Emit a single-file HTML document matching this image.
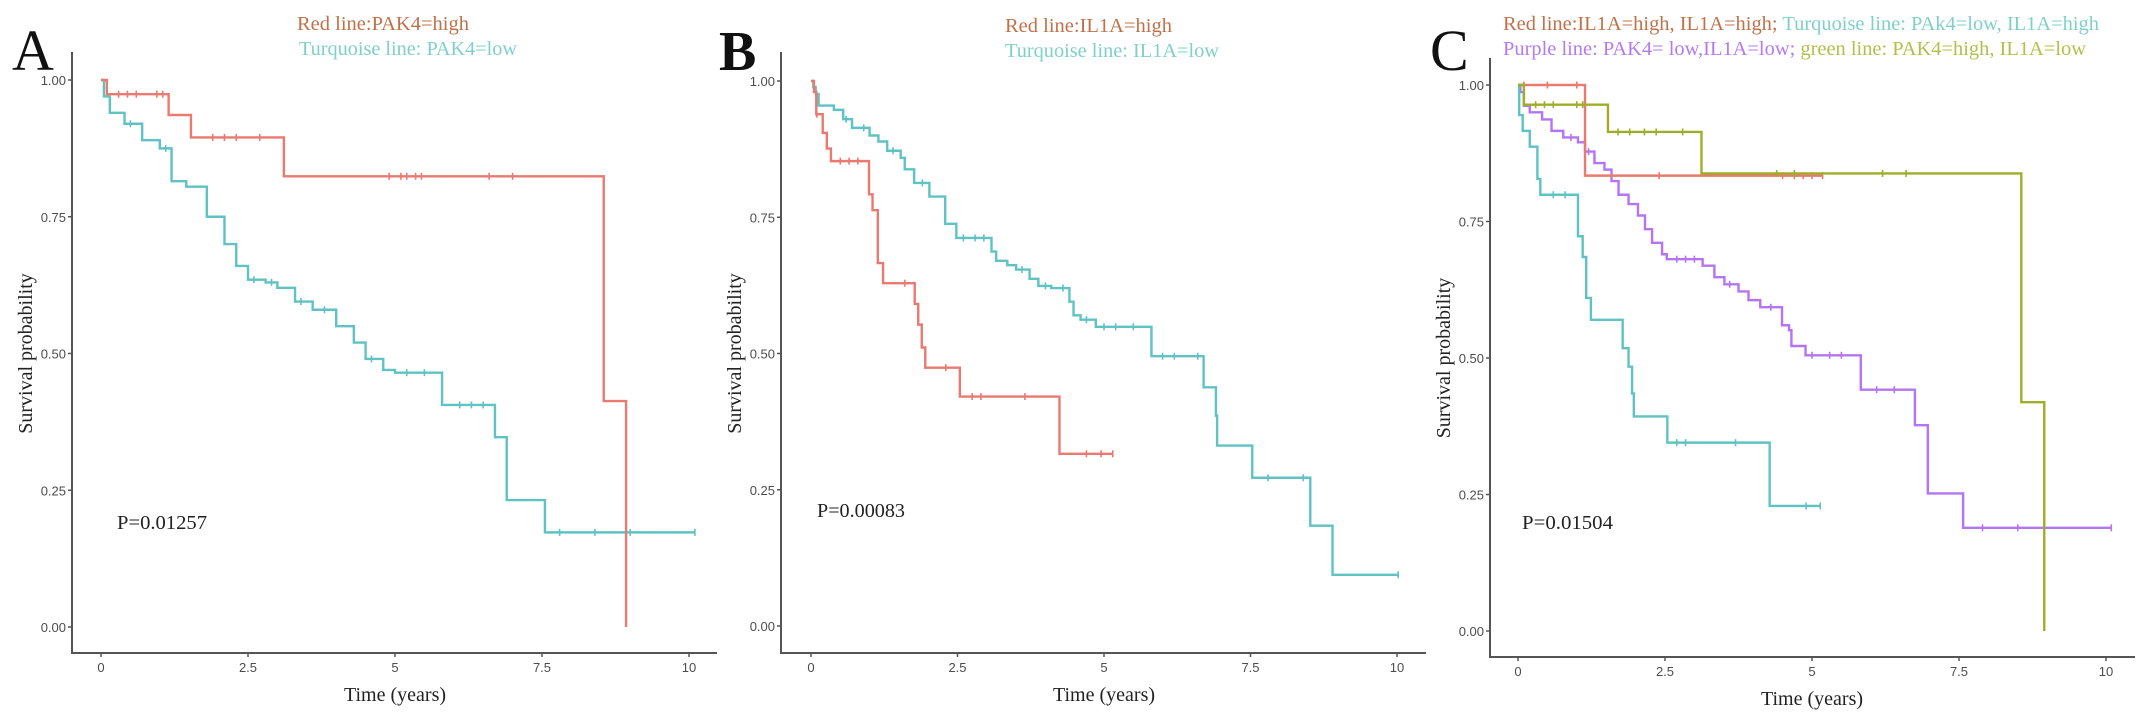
<!DOCTYPE html>
<html><head><meta charset="utf-8"><style>
html,body{margin:0;padding:0;background:#fff;}
svg{display:block;}
.tk{font-family:"Liberation Sans",sans-serif;font-size:13px;fill:#4d4d4d;}
.ser{font-family:"Liberation Serif",serif;}
</style></head><body>
<svg id="chart" width="2150" height="717" viewBox="0 0 2150 717" xmlns="http://www.w3.org/2000/svg">
<rect width="2150" height="717" fill="#fff"/>
<g>
<text class="ser" x="12" y="70" font-size="58" fill="#111">A</text>
<text class="ser" x="297" y="30" font-size="20" fill="#c0714a" textLength="172" lengthAdjust="spacingAndGlyphs">Red line:PAK4=high</text>
<text class="ser" x="299" y="55" font-size="20" fill="#7fd0c9" textLength="218" lengthAdjust="spacingAndGlyphs">Turquoise line: PAK4=low</text>
<text class="ser" x="117" y="529" font-size="20" fill="#222" textLength="90" lengthAdjust="spacingAndGlyphs">P=0.01257</text>
</g>
<g>
<text class="ser" x="719" y="70" font-size="56" font-weight="bold" fill="#111">B</text>
<text class="ser" x="1005" y="32" font-size="20" fill="#c0714a" textLength="167" lengthAdjust="spacingAndGlyphs">Red line:IL1A=high</text>
<text class="ser" x="1005" y="57" font-size="20" fill="#7fd0c9" textLength="214" lengthAdjust="spacingAndGlyphs">Turquoise line: IL1A=low</text>
<text class="ser" x="817" y="517" font-size="20" fill="#222" textLength="88" lengthAdjust="spacingAndGlyphs">P=0.00083</text>
</g>
<g>
<text class="ser" x="1430" y="70" font-size="58" fill="#111">C</text>
<text class="ser" x="1503" y="30" font-size="20" textLength="596" lengthAdjust="spacingAndGlyphs"><tspan fill="#c0714a">Red line:IL1A=high, IL1A=high; </tspan><tspan fill="#7fd0c9">Turquoise line: PAk4=low, IL1A=high</tspan></text>
<text class="ser" x="1503" y="55" font-size="20" textLength="583" lengthAdjust="spacingAndGlyphs"><tspan fill="#b57af0">Purple line: PAK4= low,IL1A=low; </tspan><tspan fill="#b3bf4a">green line: PAK4=high, IL1A=low</tspan></text>
<text class="ser" x="1522" y="529" font-size="20" fill="#222" textLength="91" lengthAdjust="spacingAndGlyphs">P=0.01504</text>
</g>
</svg>
<script>
// Panel A data
const aRedT = [0, 0.1, 1.15, 1.53, 3.11, 8.55, 8.93];
const aRedS = [1, 0.974, 0.936, 0.895, 0.824, 0.413, 0];
const aRedCens = [0.3, 0.45, 0.6, 0.95, 1.05, 1.9, 2.1, 2.3, 2.7, 4.9, 5.1, 5.2, 5.35, 5.45, 6.6, 7.0];
const aTurT = [0, 0.05, 0.15, 0.4, 0.7, 1.0, 1.2, 1.45, 1.8, 2.1, 2.3, 2.5, 2.8, 3.0, 3.3, 3.6, 4.0, 4.3, 4.5, 4.8, 5.0, 5.8, 6.7, 6.9, 7.55, 10.1];
const aTurS = [1, 0.97, 0.94, 0.92, 0.89, 0.875, 0.815, 0.805, 0.75, 0.70, 0.66, 0.635, 0.63, 0.62, 0.595, 0.58, 0.55, 0.52, 0.49, 0.47, 0.465, 0.406, 0.347, 0.232, 0.173, 0.173];
const aTurCens = [0.5, 1.1, 2.6, 2.9, 3.4, 3.8, 4.6, 5.2, 5.5, 6.1, 6.3, 6.5, 7.8, 8.4, 9.0, 10.1];
// Panel B data
const bRedT = [0, 0.05, 0.09, 0.2, 0.27, 0.34, 0.99, 1.05, 1.14, 1.23, 1.77, 1.83, 1.89, 1.95, 2.54, 4.24, 5.15];
const bRedS = [1, 0.98, 0.939, 0.905, 0.876, 0.853, 0.792, 0.763, 0.666, 0.629, 0.591, 0.553, 0.511, 0.474, 0.421, 0.316, 0.316];
const bRedCens = [0.1, 0.5, 0.65, 0.8, 1.6, 2.3, 2.75, 2.9, 3.65, 4.7, 4.95, 5.15];
const bTurT = [0, 0.04, 0.08, 0.13, 0.39, 0.55, 0.7, 1.0, 1.15, 1.3, 1.53, 1.6, 1.76, 2.02, 2.29, 2.48, 3.08, 3.16, 3.35, 3.5, 3.73, 3.88, 4.1, 4.41, 4.48, 4.6, 4.86, 4.94, 5.81, 6.7, 6.91, 6.93, 7.53, 8.52, 8.9, 10.02];
const bTurS = [1, 0.989, 0.976, 0.955, 0.947, 0.93, 0.914, 0.90, 0.889, 0.872, 0.859, 0.838, 0.813, 0.788, 0.738, 0.712, 0.687, 0.67, 0.662, 0.654, 0.637, 0.624, 0.62, 0.595, 0.57, 0.562, 0.549, 0.549, 0.495, 0.438, 0.386, 0.331, 0.272, 0.184, 0.094, 0.094];
const bTurCens = [0.6, 0.9, 1.4, 1.9, 2.6, 2.8, 2.95, 3.6, 4.0, 4.3, 4.7, 5.0, 5.2, 5.5, 6.0, 6.2, 6.6, 7.8, 8.4, 10.02];
// Panel C data
const cRedT = [0, 1.14, 5.18];
const cRedS = [1, 0.834, 0.834];
const cRedCens = [0.1, 0.5, 1.0, 2.4, 4.5, 4.7, 4.85, 5.0, 5.18];
const cGrnT = [0, 0.1, 1.53, 3.12, 8.56, 8.95];
const cGrnS = [1, 0.964, 0.914, 0.838, 0.419, 0];
const cGrnCens = [0.3, 0.45, 0.6, 1.0, 1.1, 1.7, 1.9, 2.15, 2.35, 2.8, 4.4, 4.7, 6.2, 6.6];
const cTurT = [0, 0.02, 0.08, 0.2, 0.33, 0.38, 1.02, 1.1, 1.16, 1.24, 1.78, 1.88, 1.94, 1.97, 2.54, 4.28, 5.14];
const cTurS = [1, 0.945, 0.916, 0.887, 0.828, 0.799, 0.723, 0.685, 0.61, 0.57, 0.518, 0.484, 0.435, 0.393, 0.345, 0.229, 0.229];
const cTurCens = [0.6, 0.8, 2.7, 2.85, 3.7, 4.9, 5.14];
const cPurT = [0, 0.04, 0.1, 0.2, 0.41, 0.57, 0.77, 1.02, 1.14, 1.3, 1.47, 1.59, 1.71, 1.88, 2.04, 2.16, 2.28, 2.45, 2.53, 3.14, 3.34, 3.51, 3.75, 3.92, 4.12, 4.49, 4.61, 4.65, 4.89, 5.83, 6.75, 6.97, 7.57, 10.09];
const cPurS = [1, 0.987, 0.962, 0.95, 0.937, 0.916, 0.904, 0.895, 0.878, 0.857, 0.845, 0.824, 0.799, 0.782, 0.761, 0.736, 0.711, 0.69, 0.681, 0.669, 0.648, 0.635, 0.622, 0.606, 0.593, 0.56, 0.551, 0.522, 0.505, 0.442, 0.377, 0.252, 0.189, 0.189];
const cPurCens = [0.9, 1.2, 2.7, 2.85, 3.0, 3.6, 4.3, 5.0, 5.3, 5.5, 6.1, 6.4, 7.9, 8.5, 10.09];
// Axis tick labels
const yTicks = [0, 0.25, 0.5, 0.75, 1];
const yTickLabels = ["0.00", "0.25", "0.50", "0.75", "1.00"];
const xTicks = [0, 2.5, 5, 7.5, 10];
const xTickLabels = ["0", "2.5", "5", "7.5", "10"];

const NS = "http://www.w3.org/2000/svg";
const svg = document.getElementById("chart");
const COL = {red: "#ea7a70", tur: "#5fc2c3", pur: "#b574f2", grn: "#9fae2a"};

const panels = [
  {id: "a", ax: 72, x0: 101, x10: 689, y0: 627, y1: 80, axEnd: 717, axY: 653, top: 52,
   series: [[aTurT, aTurS, aTurCens, COL.tur, "turquoise"], [aRedT, aRedS, aRedCens, COL.red, "red"]]},
  {id: "b", ax: 781, x0: 811, x10: 1397, y0: 626, y1: 81, axEnd: 1426, axY: 653, top: 52,
   series: [[bTurT, bTurS, bTurCens, COL.tur, "turquoise"], [bRedT, bRedS, bRedCens, COL.red, "red"]]},
  {id: "c", ax: 1490, x0: 1518, x10: 2106, y0: 631, y1: 85, axEnd: 2135, axY: 657, top: 58,
   series: [[cPurT, cPurS, cPurCens, COL.pur, "purple"], [cTurT, cTurS, cTurCens, COL.tur, "turquoise"], [cRedT, cRedS, cRedCens, COL.red, "red"], [cGrnT, cGrnS, cGrnCens, COL.grn, "green"]]}
];

function mk(tag, attrs, parent) {
  const e = document.createElementNS(NS, tag);
  for (const k in attrs) e.setAttribute(k, attrs[k]);
  parent.appendChild(e);
  return e;
}
function stepAt(T, S, t) {
  let s = S[0];
  for (let i = 0; i < T.length; i++) { if (T[i] <= t) s = S[i]; }
  return s;
}

panels.forEach(p => {
  const xs = t => p.x0 + (p.x10 - p.x0) * t / 10;
  const ys = s => p.y0 - (p.y0 - p.y1) * s;
  const g = mk("g", {}, svg);
  
  
  // axes
  const ya = mk("line", {x1: p.ax, y1: p.top, x2: p.ax, y2: p.axY + 1, stroke: "#555", "stroke-width": 2}, g);
  
  
  const xa = mk("line", {x1: p.ax - 1, y1: p.axY, x2: p.axEnd, y2: p.axY, stroke: "#555", "stroke-width": 2}, g);
  
  
  yTicks.forEach((v, i) => {
    const y = ys(v);
    const tk = mk("line", {x1: p.ax - 4, y1: y, x2: p.ax, y2: y, stroke: "#555", "stroke-width": 1.5}, g);
    
    
    const tx = mk("text", {x: p.ax - 6, y: y + 5, "text-anchor": "end", class: "tk"}, g);
    tx.textContent = yTickLabels[i];
    
    
  });
  xTicks.forEach((v, i) => {
    const x = xs(v);
    const tk = mk("line", {x1: x, y1: p.axY, x2: x, y2: p.axY + 4, stroke: "#555", "stroke-width": 1.5}, g);
    
    
    const tx = mk("text", {x: x, y: p.axY + 19, "text-anchor": "middle", class: "tk"}, g);
    tx.textContent = xTickLabels[i];
    
    
  });
  const xt = mk("text", {x: (p.x0 + p.x10) / 2, y: p.axY + 48, "text-anchor": "middle", class: "ser", "font-size": 20, fill: "#222"}, g);
  xt.textContent = "Time (years)";
  
  
  const cy = (p.y0 + p.y1) / 2;
  const yt = mk("text", {x: p.ax - 40, y: cy, "text-anchor": "middle", class: "ser", "font-size": 20, fill: "#222", transform: "rotate(-90 " + (p.ax - 40) + " " + cy + ")"}, g);
  yt.textContent = "Survival probability";
  
  
  // series
  p.series.forEach(([T, S, C, col, nm]) => {
    let d = "M" + xs(T[0]) + "," + ys(S[0]);
    for (let i = 1; i < T.length; i++) d += "H" + xs(T[i]) + "V" + ys(S[i]);
    const path = mk("path", {d: d, fill: "none", stroke: col, "stroke-width": 2.4, "stroke-linejoin": "miter"}, g);
    
    
    C.forEach(t => {
      const x = xs(t), y = ys(stepAt(T, S, t));
      const c = mk("path", {d: "M" + x + "," + (y - 3.5) + "V" + (y + 3.5), stroke: col, "stroke-width": 1.6}, g);
      
      
    });
  });
});
</script>
</body></html>
